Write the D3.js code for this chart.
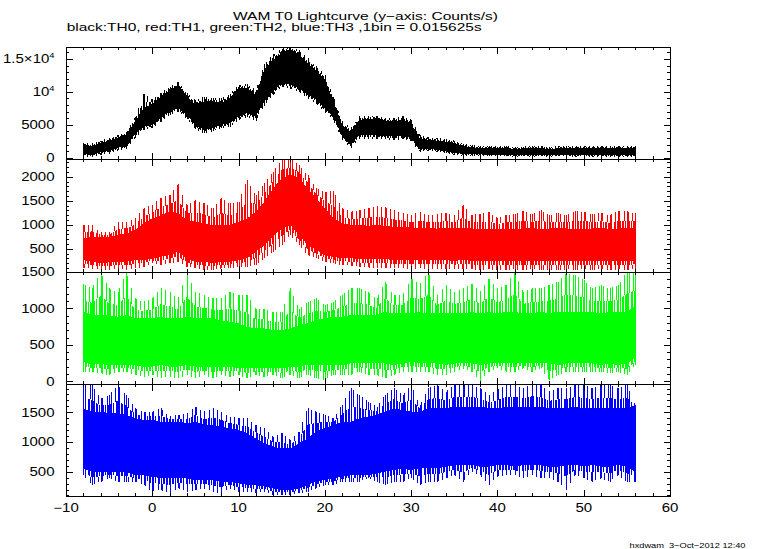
<!DOCTYPE html>
<html><head><meta charset="utf-8">
<script src="https://cdn.jsdelivr.net/npm/d3@7"></script>
<style>body{margin:0;background:#fff}svg{display:block}</style>
</head><body>
<svg id="c" width="765" height="549"></svg>
<script>
// ---- data (1-s grid) ----
const times = [-8,-7,-6,-5,-4,-3,-2,-1,0,1,2,3,4,5,6,7,8,9,10,11,12,13,14,15,16,17,18,19,20,21,22,23,24,25,26,27,28,29,30,31,32,33,34,35,36,37,38,39,40,41,42,43,44,45,46,47,48,49,50,51,52,53,54,55,56];

// TH0 (black)
const th0Hi = [2040,1700,2300,2550,3060,3570,5500,7550, 8160,9330,10200,11100,9330,8060,8570,8570,8310,9080, 10600,10600,9590,13400,14900,15900,16500,15700,14400,13200, 11900,8570,5000,3980,5760,5900,6000,5600,5500,5800, 5200,2950,2700,2600,2450,2250,1800,1600,1450,1450, 1400,1450,1350,1400,1400,1450,1350,1400,1500,1400, 1450,1400,1450,1400,1450,1400,1500];
const th0Lo = [660,410,820,1020,1530,1680,3570,4740, 5000,6020,7040,7550,6430,5000,4230,4490,5000,5250, 6270,6780,6270,8570,10100,11400,11100,10600,9590,8820, 7550,6270,3210,1940,3470,3400,3400,3300,3200,3300, 3000,1200,1400,1200,950,700,600,550,500,450, 450,450,400,450,400,450,400,450,450,400, 450,400,450,400,400,400,450];
const th0Peak = [2300,2150,2600,3000,3400,3900,6200,9700, 8900,9900,10700,11500,9800,8800,9300,9100,9000,9700, 11000,11200,10300,14200,15700,16500,17000,16300,15200,13900, 12600,9300,5600,4500,6300,6300,6400,6000,6000,6300, 5800,3500,3100,3000,2800,2600,2100,1900,1800,1750, 1700,1800,1650,1700,1750,1800,1650,1750,1850,1700, 1800,1700,1800,1700,1750,1700,1800];
const th0Dip = [250,100,450,600,1100,1300,3000,4200, 4500,5500,6500,7000,5900,4300,3700,4000,4500,4700, 5700,6200,5600,7900,9500,10800,10500,10000,9000,8200, 6900,5700,2700,1500,2900,2900,2900,2800,2700,2800, 2500,900,1000,900,650,400,300,250,200,200, 200,200,150,200,150,200,150,200,200,150, 200,150,200,150,150,150,200];

// TH1 (red)
const th1Hi = [715,750,750,750,785,820,890,1030, 1130,1200,1270,1240,1100,1060,1030,990,990,990, 1060,1130,1270,1480,1760,1970,2040,1970,1760,1550, 1340,1130,1030,990,990,980,1000,970,960,950, 940,930,930,920,930,930,940,920,910,920, 910,920,910,920,930,910,920,930,920,910, 920,920,930,910,920,930,930];
const th1Lo = [264,229,194,215,229,229,264,264, 298,333,368,437,298,229,229,194,229,229, 264,299,437,576,750,924,993,785,576,472, 368,333,298,298,290,280,290,280,270,270, 270,260,260,260,260,250,260,250,250,250, 250,250,240,250,250,240,250,250,240,250, 250,240,250,240,250,250,250];
const th1Peak = [993,993,840,840,1062,1062,1132,1340, 1410,1562,1618,1840,1410,1514,1445,1340,1550,1445, 1480,1930,1618,1860,2104,2348,2382,2243,2035,1757, 1687,1700,1340,1270,1300,1340,1380,1361,1300,1250, 1200,1270,1200,1220,1250,1200,1410,1200,1230,1260, 1150,1200,1220,1285,1220,1300,1200,1240,1200,1285, 1270,1220,1250,1200,1285,1280,1240];
const th1Dip = [90,90,55,55,90,55,90,125, 194,160,194,229,125,90,55,55,90,90, 125,125,160,300,437,576,785,576,368,298, 229,194,160,150,120,110,100,100,90,90, 80,90,80,70,80,70,80,70,60,70, 60,60,70,60,70,60,60,50,70,60, 70,60,70,60,70,60,80];

// TH2 (green)
const th2Hi = [954,908,908,908,885,908,863,863, 863,885,863,863,885,863,863,863,840,817, 794,748,726,726,703,703,726,771,794,840, 863,885,885,908,908,908,908,954,931,931, 931,954,931,931,931,931,931,954,931,954, 931,954,954,931,931,954,931,954,954,954, 954,954,931,954,954,954,1045];
const th2Lo = [269,223,246,223,223,223,223,200, 200,223,200,200,223,200,200,200,200,200, 178,178,178,178,178,178,200,200,223,223, 223,223,223,246,246,246,246,246,223,246, 269,246,246,246,223,246,246,246,223,246, 246,246,246,246,246,246,246,223,246,246, 246,246,223,246,223,246,315];
const th2Peak = [1342,1274,1502,1274,1228,1493,1137,1091, 1137,1274,1228,1137,1493,1228,1182,1137,1137,1228, 1182,1182,999,999,954,954,1274,999,1091,1137, 1045,1091,1182,1274,1274,1228,1137,1365,1182,1182, 1410,1342,1502,1182,1319,1228,1274,1342,1228,1410, 1274,1319,1502,1228,1274,1274,1319,1365,1479,1456, 1388,1274,1319,1274,1319,1502,1502];
const th2Dip = [132,132,109,86,132,132,86,63, 86,41,63,41,86,41,86,41,86,63, 86,41,86,63,86,41,86,41,86,41, 18,86,86,86,132,86,86,41,86,132, 132,132,132,86,86,132,178,132,0,132, 178,132,132,178,132,178,18,86,132,132, 132,132,132,109,132,86,223];

// TH3 (blue)
const th3Hi = [1567,1511,1511,1483,1483,1455,1399,1371, 1371,1343,1343,1343,1315,1343,1286,1286,1258,1230, 1202,1146,1062,978,922,893,893,978,1062,1174, 1230,1286,1343,1343,1399,1427,1455,1511,1567,1539, 1511,1511,1567,1567,1567,1595,1595,1595,1595,1567, 1567,1595,1595,1595,1595,1595,1567,1567,1567,1595, 1567,1567,1567,1567,1567,1567,1623];
const th3Lo = [557,500,500,500,500,500,444,444, 416,388,388,388,388,360,360,360,332,332, 304,276,276,248,220,192,192,220,276,332, 360,388,416,444,444,444,472,500,528,557, 528,557,557,557,585,613,613,613,585,585, 613,613,585,613,613,613,585,585,613,613, 585,613,585,585,613,585,500];
const th3Peak = [1960,1960,1735,1791,1960,1791,1567,1511, 1511,1567,1427,1455,1483,1595,1511,1567,1511,1427, 1399,1399,1286,1230,1090,1146,1034,1174,1567,1511, 1455,1399,1623,1904,1791,1679,1595,1791,1904,1791, 1960,1623,1904,1960,1848,1960,1960,1960,1904,1791, 1876,1960,1960,1904,1988,1960,1848,1904,1904,1960, 1960,1904,1960,1960,1904,1960,1623];
const th3Dip = [444,276,332,388,332,332,332,276, 164,192,136,220,164,192,220,164,136,220, 164,164,136,164,108,108,108,136,164,220, 276,276,332,332,332,388,332,276,332,332, 388,276,332,332,388,444,332,500,444,276, 416,444,444,388,444,388,388,332,192,444, 388,332,388,332,444,332,332];

// tick labels
const xTicks = [-10,0,10,20,30,40,50,60];
const xTickLabels = ["\u221210","0","10","20","30","40","50","60"];
const th0Ticks = [0,5000,10000,15000];
const th0TickLabels = ["0","5000","10^4","1.5\u00d710^4"];
const th1Ticks = [500,1000,1500,2000];
const th1TickLabels = ["500","1000","1500","2000"];
const th2Ticks = [0,500,1000,1500];
const th2TickLabels = ["0","500","1000","1500"];
const th3Ticks = [500,1000,1500];
const th3TickLabels = ["500","1000","1500"];

const titleText = "WAM T0 Lightcurve (y\u2212axis: Counts/s)";
const subtitleText = "black:TH0, red:TH1, green:TH2, blue:TH3 ,1bin = 0.015625s";
const footText = "hxdwam\u00a0\u00a03\u2212Oct\u22122012 12:40";

// ---- layout ----
const svg = d3.select('#c');
const FONT = "'Liberation Sans', Arial, Helvetica, sans-serif";
const X0 = 66, X1 = 670;
const x = d3.scaleLinear().domain([-10, 60]).range([X0, X1]);

const panels = [
  {hi: th0Hi, lo: th0Lo, peak: th0Peak, dip: th0Dip, color: '#000000', top: 47,  bottom: 159, domain: [-198, 16824], major: th0Ticks, labels: th0TickLabels, minorStep: 1000},
  {hi: th1Hi, lo: th1Lo, peak: th1Peak, dip: th1Dip, color: '#ff0000', top: 159, bottom: 272, domain: [15, 2369],    major: th1Ticks, labels: th1TickLabels, minorStep: 100},
  {hi: th2Hi, lo: th2Lo, peak: th2Peak, dip: th2Dip, color: '#00ff00', top: 272, bottom: 384, domain: [-37, 1500],   major: th2Ticks, labels: th2TickLabels, minorStep: 100},
  {hi: th3Hi, lo: th3Lo, peak: th3Peak, dip: th3Dip, color: '#0000ff', top: 384, bottom: 496, domain: [91, 1976],    major: th3Ticks, labels: th3TickLabels, minorStep: 100}
];

// irregular stripe offsets used as a texture for the spiky fringes (style only)
const denseOffsets = [0, 1, 3, 4, 6, 9, 10, 12];
const sparseOffsets = [2, 7, 11, 15];

const defs = svg.append('defs');

function label(g, px, py, str, anchor, size, sx) {
  const t = g.append('text')
    .attr('transform', `translate(${px},${py}) scale(${sx},1)`)
    .attr('text-anchor', anchor)
    .attr('font-family', FONT)
    .attr('font-size', size)
    .attr('fill', '#000');
  const parts = str.split('^');
  t.append('tspan').text(parts[0]);
  if (parts[1]) t.append('tspan').attr('dy', -5).attr('font-size', size * 0.62).text(parts[1]);
  return t;
}

panels.forEach((p, k) => {
  const y = d3.scaleLinear().domain(p.domain).range([p.bottom, p.top]);
  const clipId = 'clip' + k;
  defs.append('clipPath').attr('id', clipId)
    .append('rect').attr('x', X0).attr('y', p.top).attr('width', X1 - X0).attr('height', p.bottom - p.top);

  const dense = defs.append('pattern').attr('id', 'pd' + k).attr('patternUnits', 'userSpaceOnUse')
    .attr('width', 14).attr('height', 20).attr('x', k * 3);
  denseOffsets.forEach(o => dense.append('rect').attr('x', o).attr('y', 0).attr('width', 1).attr('height', 20).attr('fill', p.color));
  const sparse = defs.append('pattern').attr('id', 'ps' + k).attr('patternUnits', 'userSpaceOnUse')
    .attr('width', 17).attr('height', 20).attr('x', k * 5);
  sparseOffsets.forEach(o => sparse.append('rect').attr('x', o).attr('y', 0).attr('width', 1).attr('height', 20).attr('fill', p.color));

  const g = svg.append('g').attr('clip-path', `url(#${clipId})`).attr('shape-rendering', 'crispEdges');
  const midHi = p.hi.map((v, i) => v + 0.45 * (p.peak[i] - v));
  const midLo = p.lo.map((v, i) => v - 0.45 * (v - p.dip[i]));
  const band = (a, b) => d3.area()
    .x((d, i) => x(times[i]))
    .y0((d, i) => y(a[i]))
    .y1((d, i) => y(b[i]))(times);

  g.append('path').attr('d', band(midHi, p.peak)).attr('fill', `url(#ps${k})`);
  g.append('path').attr('d', band(p.dip, midLo)).attr('fill', `url(#ps${k})`);
  g.append('path').attr('d', band(p.hi, midHi)).attr('fill', `url(#pd${k})`);
  g.append('path').attr('d', band(midLo, p.lo)).attr('fill', `url(#pd${k})`);
  g.append('path').attr('d', band(p.lo, p.hi)).attr('fill', p.color);
  g.selectAll('line.sp').data(times).join('line')
    .attr('x1', (d) => Math.round(x(d)) + 0.5).attr('x2', (d) => Math.round(x(d)) + 0.5)
    .attr('y1', (d, i) => y(p.dip[i])).attr('y2', (d, i) => y(p.peak[i]))
    .attr('stroke', p.color).attr('stroke-width', 1);

  // axes (ticks inward on all four sides)
  const minor = d3.range(Math.ceil(p.domain[0] / p.minorStep) * p.minorStep, p.domain[1] + 1e-6, p.minorStep)
    .filter(v => !p.major.includes(v));
  const majorIn = p.major.filter(v => v >= p.domain[0] && v <= p.domain[1]);
  const ax = svg.append('g').attr('shape-rendering', 'crispEdges');
  const addAxis = (axis, tx, ty) => {
    const a = ax.append('g').attr('transform', `translate(${tx},${ty})`).call(axis);
    a.select('.domain').remove();
    a.selectAll('text').remove();
    a.selectAll('line').attr('stroke', '#000');
  };
  addAxis(d3.axisLeft(y).tickValues(majorIn).tickSize(-6.5).tickFormat(''), X0, 0);
  addAxis(d3.axisLeft(y).tickValues(minor).tickSize(-3.3).tickFormat(''), X0, 0);
  addAxis(d3.axisRight(y).tickValues(majorIn).tickSize(-6.5).tickFormat(''), X1, 0);
  addAxis(d3.axisRight(y).tickValues(minor).tickSize(-3.3).tickFormat(''), X1, 0);
  const xMinor = d3.range(-10, 60.001, 2).filter(v => !xTicks.includes(v));
  addAxis(d3.axisBottom(x).tickValues(xTicks).tickSize(-6.5).tickFormat(''), 0, p.bottom);
  addAxis(d3.axisBottom(x).tickValues(xMinor).tickSize(-3.3).tickFormat(''), 0, p.bottom);
  addAxis(d3.axisTop(x).tickValues(xTicks).tickSize(-6.5).tickFormat(''), 0, p.top);
  addAxis(d3.axisTop(x).tickValues(xMinor).tickSize(-3.3).tickFormat(''), 0, p.top);

  // y labels
  p.major.forEach((v, i) => {
    if (v < p.domain[0] - 1e-6 || v > p.domain[1] + 1e-6) return;
    label(svg, 54.5, y(v) + 4.3, p.labels[i], 'end', 12, 1.25);
  });

  // frame
  svg.append('rect').attr('x', X0 + 0.5).attr('y', p.top + 0.5)
    .attr('width', X1 - X0).attr('height', p.bottom - p.top)
    .attr('fill', 'none').attr('stroke', '#000').attr('stroke-width', 1)
    .attr('shape-rendering', 'crispEdges');
});

// x labels
xTicks.forEach((v, i) => label(svg, x(v), 511.7, xTickLabels[i], 'middle', 12, 1.25));

// titles
svg.append('text').attr('x', 233).attr('y', 19.5).attr('font-family', FONT).attr('font-size', 11.5)
  .attr('textLength', 265).attr('lengthAdjust', 'spacingAndGlyphs').text(titleText);
svg.append('text').attr('x', 66.7).attr('y', 31).attr('font-family', FONT).attr('font-size', 11.5)
  .attr('textLength', 415).attr('lengthAdjust', 'spacingAndGlyphs').text(subtitleText);
svg.append('text').attr('x', 629.5).attr('y', 547.5).attr('font-family', FONT).attr('font-size', 8)
  .attr('textLength', 116).attr('lengthAdjust', 'spacingAndGlyphs').text(footText);
</script>
</body></html>
